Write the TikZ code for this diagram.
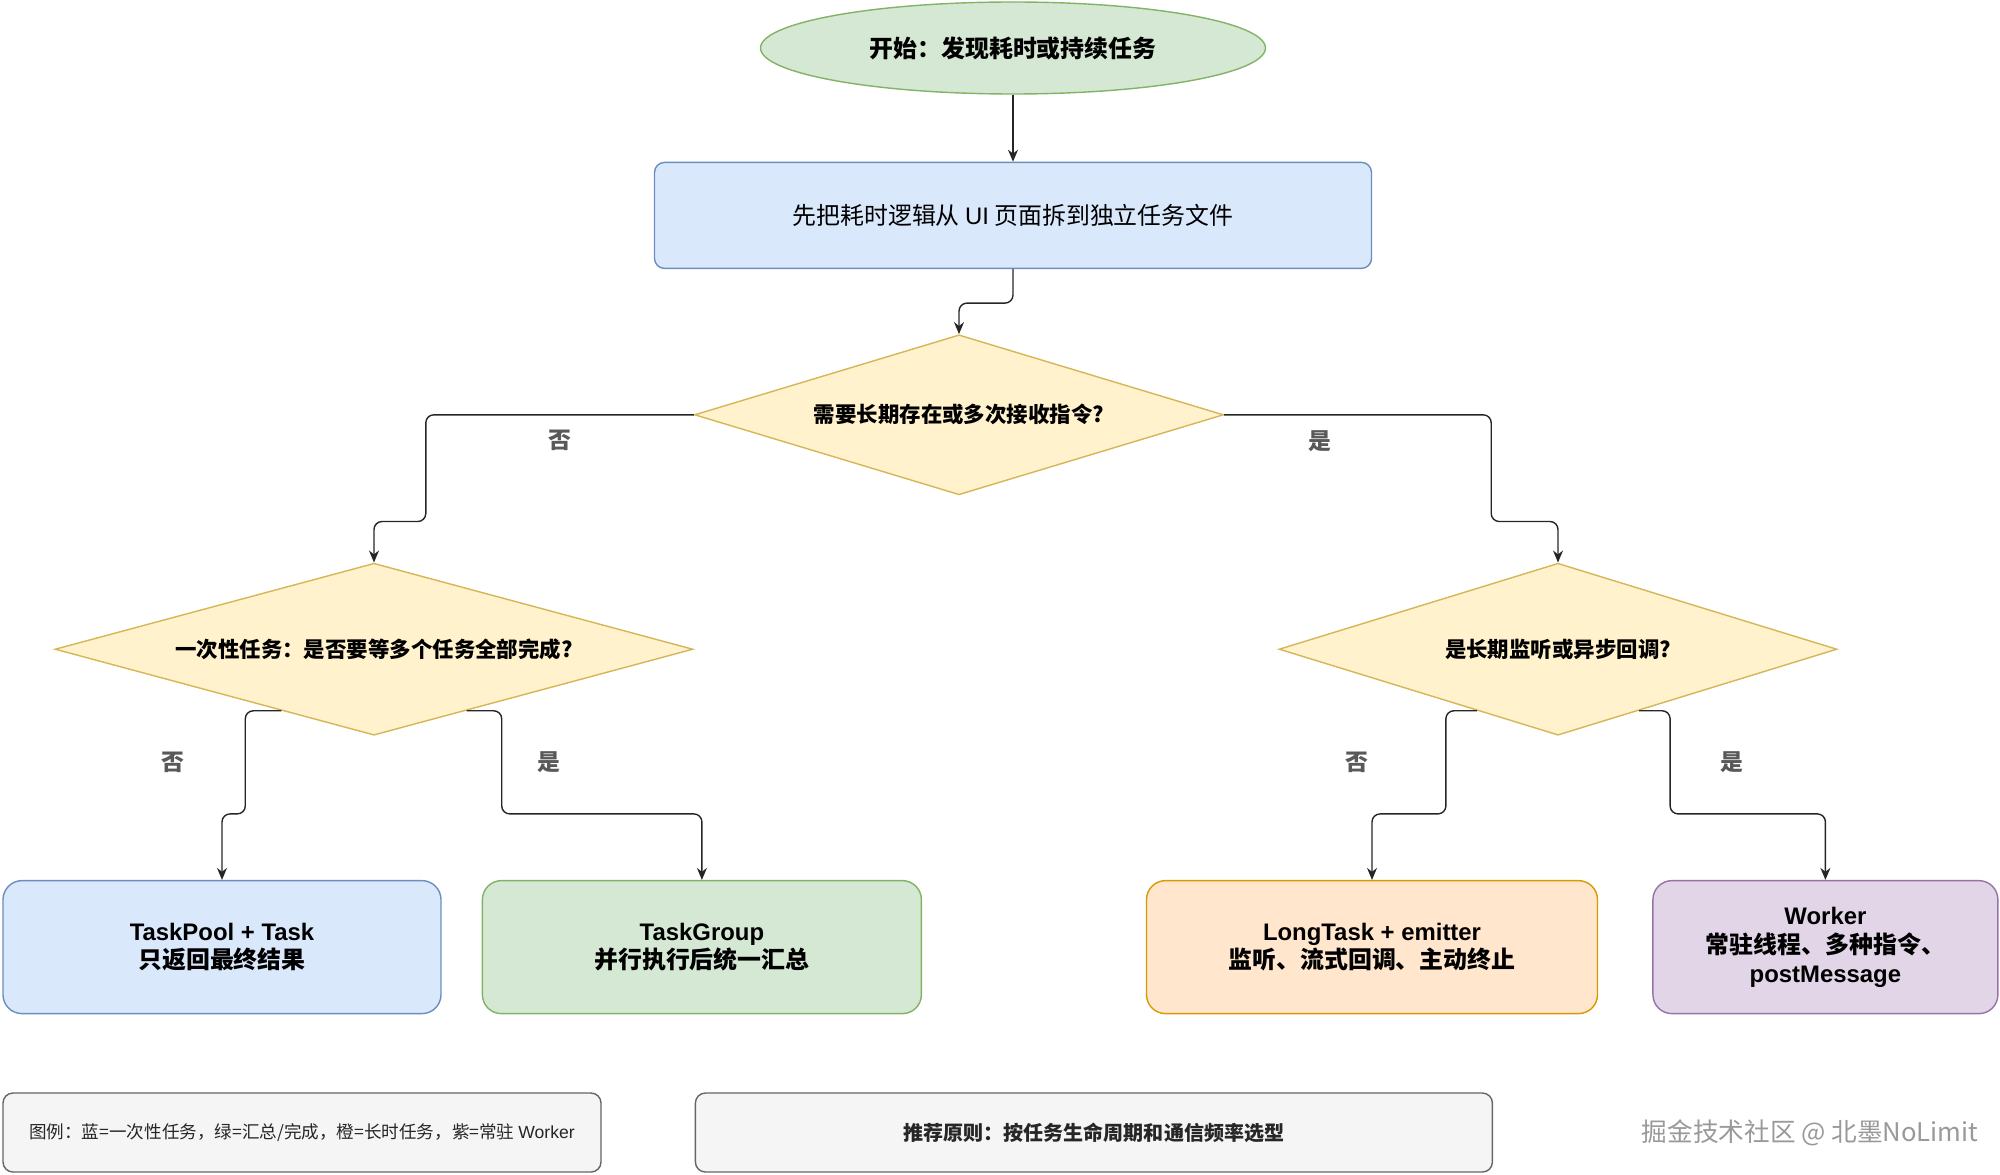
\documentclass[tikz,border=0pt]{standalone}
\usepackage{fontspec}
\setmainfont{Noto Sans CJK SC}
\newfontfamily\latfont{Liberation Sans}
\newcommand{\lat}[1]{{\latfont #1}}
\usetikzlibrary{shapes.geometric}
\usetikzlibrary{arrows.meta}
\usetikzlibrary{positioning}
\usetikzlibrary{calc}

\definecolor{startfill}{HTML}{D5E8D4}
\definecolor{startline}{HTML}{82B366}
\definecolor{bluefill}{HTML}{DAE8FC}
\definecolor{blueline}{HTML}{6C8EBF}
\definecolor{yellowfill}{HTML}{FFF2CC}
\definecolor{yellowline}{HTML}{D6B656}
\definecolor{orangefill}{HTML}{FFE6CC}
\definecolor{orangeline}{HTML}{D79B00}
\definecolor{purplefill}{HTML}{E1D5E7}
\definecolor{purpleline}{HTML}{9673A6}
\definecolor{notefill}{HTML}{F5F5F5}
\definecolor{noteline}{HTML}{666666}

\begin{document}
\begin{tikzpicture}[>={Stealth[length=1.2mm,width=1mm]}, thin,
	  every node/.style={inner sep=0pt},
	  start/.style={ellipse,draw=startline,fill=startfill,minimum width=5.05cm,minimum height=0.92cm,font=\bfseries\fontsize{6.8}{8.2}\selectfont},
	  proc/.style={rectangle,rounded corners=0.1cm,draw=blueline,fill=bluefill,minimum width=7.17cm,minimum height=1.06cm,font=\fontsize{6.8}{8.2}\selectfont},
	  decision/.style={diamond,aspect=3.3,draw=yellowline,fill=yellowfill,font=\bfseries\fontsize{6.1}{7.4}\selectfont},
	  leaf/.style={rectangle,rounded corners=0.19cm,minimum height=1.33cm,align=center,font=\bfseries\fontsize{6.8}{8.2}\selectfont},
	  note/.style={rectangle,rounded corners=0.1cm,draw=noteline,fill=notefill,minimum height=0.79cm,text=black!85},
	  flow/.style={->,draw=black!85,rounded corners=0.08cm},
	  lbl/.style={font=\bfseries\fontsize{6.5}{7.8}\selectfont,text=black!65}]
	  \useasboundingbox (0,0) rectangle (20,-11.75);
	  \node[start] (start) at (10.13,-0.48) {开始：发现耗时或持续任务};
	  \node[proc] (prep) [below=0.67cm of start] {先把耗时逻辑从 \lat{UI} 页面拆到独立任务文件};
	  \node[decision,minimum width=5.29cm,minimum height=1.6cm] (q1) [below=0.65cm of prep,xshift=-0.54cm] {需要长期存在或多次接收指令?};
	  \node[decision,minimum width=6.38cm,minimum height=1.72cm] (q2) [below=0.67cm of q1,xshift=-5.85cm] {一次性任务：是否要等多个任务全部完成?};
	  \node[decision,minimum width=5.58cm,minimum height=1.72cm] (q3) [below=0.67cm of q1,xshift=5.99cm] {是长期监听或异步回调?};
	  \node[leaf,draw=blueline,fill=bluefill,minimum width=4.38cm] (pool) [below=1.44cm of q2,xshift=-1.52cm] {\lat{TaskPool + Task}\\只返回最终结果};
	  \node[leaf,draw=startline,fill=startfill,minimum width=4.39cm] (group) [right=0.4cm of pool] {\lat{TaskGroup}\\并行执行后统一汇总};
	  \node[leaf,draw=orangeline,fill=orangefill,minimum width=4.51cm] (long) [below=1.44cm of q3,xshift=-1.86cm] {\lat{LongTask + emitter}\\监听、流式回调、主动终止};
	  \node[leaf,draw=purpleline,fill=purplefill,minimum width=3.45cm] (worker) [right=0.54cm of long] {\lat{Worker}\\常驻线程、多种指令、\\\lat{postMessage}};
	  \node[note,minimum width=5.98cm,font=\fontsize{5.0}{6}\selectfont] (legend) [below=0.78cm of pool.south west,anchor=north west] {图例：蓝=一次性任务，绿=汇总/完成，橙=长时任务，紫=常驻 \lat{Worker}};
	  \node[note,minimum width=7.97cm,font=\bfseries\fontsize{5.7}{6.8}\selectfont] (rule) [right=0.93cm of legend] {推荐原则：按任务生命周期和通信频率选型};
	  \node[font=\fontsize{7.3}{8.8}\selectfont,text=black!40] (mark) [right=1.48cm of rule] {掘金技术社区 @ 北墨NoLimit};
%
	  \draw[flow] (start) -- (prep);
	  \draw[flow] (prep.south) -- ++(0,-0.34) -| (q1.north);
	  \draw[flow] (q1.west) -- ++(-2.68,0) node[lbl,midway,below=0.15cm] {否} |- ([yshift=0.41cm]q2.north) -- (q2.north);
	  \draw[flow] (q1.east) -- ++(2.67,0) node[lbl,pos=0.36,below=0.15cm] {是} |- ([yshift=0.41cm]q3.north) -- (q3.north);
	  \draw[flow] ($(q2.south)!0.29!(q2.west)$) -- ++(-0.36,0) |- ([yshift=0.66cm]pool.north) node[lbl,pos=0.25,left=0.6cm] {否} -- (pool.north);
	  \draw[flow] ($(q2.south)!0.29!(q2.east)$) -- ++(0.35,0) |- ([yshift=0.66cm]group.north) node[lbl,pos=0.25,right=0.35cm] {是} -- (group.north);
	  \draw[flow] ($(q3.south)!0.29!(q3.west)$) -- ++(-0.31,0) |- ([yshift=0.66cm]long.north) node[lbl,pos=0.25,left=0.77cm] {否} -- (long.north);
	  \draw[flow] ($(q3.south)!0.29!(q3.east)$) -- ++(0.31,0) |- ([yshift=0.66cm]worker.north) node[lbl,pos=0.25,right=0.5cm] {是} -- (worker.north);
\end{tikzpicture}
\end{document}
